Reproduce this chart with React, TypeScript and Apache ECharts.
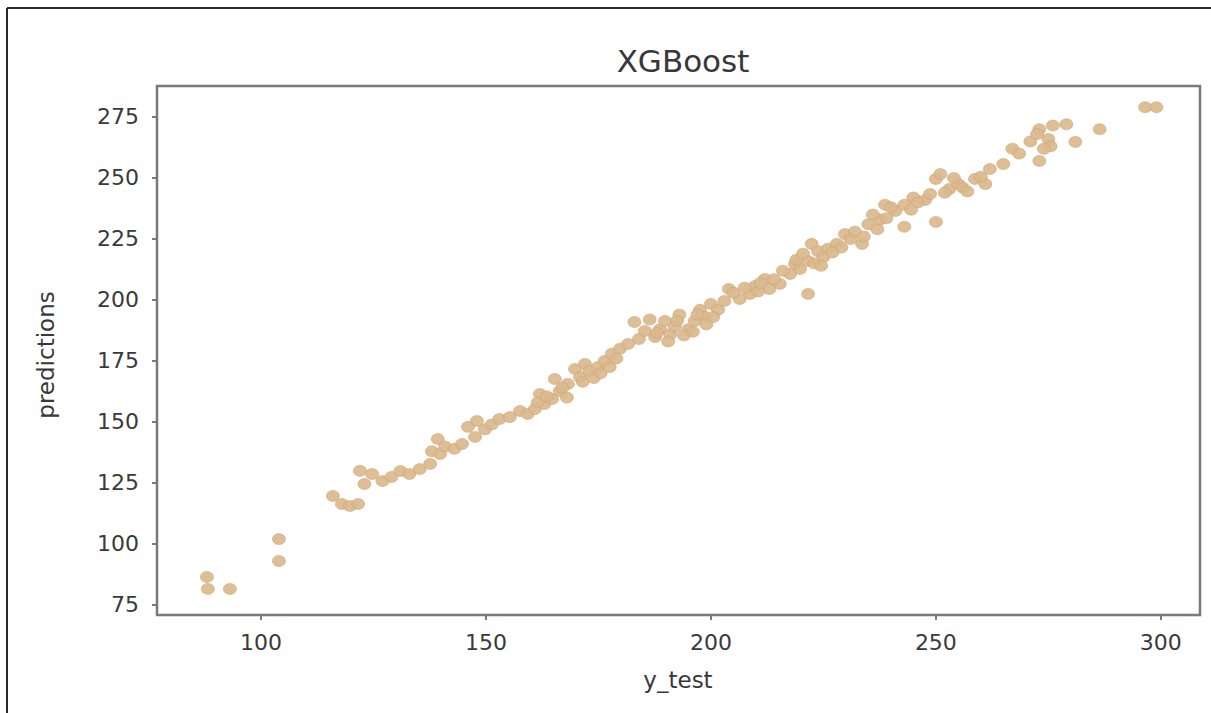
import React, { useEffect, useRef } from "react";
import * as echarts from "echarts";

const titleText = "XGBoost";
const xName = "y_test";
const yName = "predictions";

const yTest: number[] = [
  88.0, 88.2, 93.1, 104.0, 104.0, 116.0, 118.0, 119.8, 121.6, 122.0,
  123.0, 124.7, 127.0, 129.0, 131.0, 133.0, 135.3, 137.6, 138.0, 139.3,
  139.8, 140.9, 143.0, 144.7, 146.0, 147.6, 148.0, 149.8, 151.3, 153.0,
  155.3, 157.6, 159.3, 160.9, 162.0, 163.0, 164.7, 165.3, 166.4, 168.2,
  169.8, 170.9, 172.0, 173.0, 174.9, 176.4, 178.0, 179.8, 181.6, 183.0,
  184.0, 185.3, 186.4, 187.6, 188.7, 189.8, 191.0, 192.0, 193.0, 195.0,
  196.4, 197.6, 198.7, 200.0, 201.6, 203.0, 204.0, 206.4, 208.7, 209.8,
  212.0, 213.0, 215.3, 217.6, 218.7, 219.8, 221.6, 221.6, 222.4, 223.8,
  225.0, 226.0, 228.0, 229.8, 231.0, 233.6, 235.0, 237.0, 237.6, 238.7,
  241.0, 243.0, 243.0, 245.0, 247.6, 248.7, 250.0, 250.0, 251.0, 253.0,
  255.0, 258.7, 261.0, 262.0, 265.0, 267.0, 268.5, 273.0, 275.0, 275.5,
  273.0, 279.0, 281.0, 286.4, 296.5, 299.0,
  271.0, 272.5, 276.0, 274.0,
  190.5, 194.0, 196.0, 199.0, 192.5, 188.0, 197.0, 200.5,
  161.5, 163.5, 167.0, 168.0,
  171.5, 174.0, 175.5, 177.5, 179.0,
  205.0, 207.5, 210.5, 214.0, 216.0, 211.0,
  219.0, 220.5, 223.0, 224.5, 227.0, 229.0,
  232.0, 234.0, 236.0, 239.0, 240.0,
  244.5, 246.0, 252.0, 254.0, 256.0, 257.0, 260.0,
];

const predictions: number[] = [
  86.5, 81.6, 81.6, 102.0, 93.0, 119.7, 116.4, 115.6, 116.4, 130.0,
  124.6, 128.7, 125.8, 127.5, 129.9, 128.7, 130.7, 132.8, 138.0, 143.0,
  136.9, 140.0, 139.0, 141.0, 148.0, 143.9, 150.4, 147.0, 149.0, 151.2,
  152.0, 154.5, 153.3, 155.3, 161.5, 157.4, 159.4, 167.6, 162.7, 165.6,
  171.7, 168.4, 173.8, 170.9, 172.5, 175.0, 178.0, 180.0, 182.0, 191.0,
  184.0, 187.3, 192.0, 184.8, 188.0, 191.4, 186.0, 189.0, 194.0, 188.0,
  191.4, 196.0, 193.0, 198.4, 196.0, 199.6, 204.5, 200.4, 202.5, 205.7,
  208.6, 204.5, 206.6, 210.7, 214.8, 212.7, 216.0, 202.5, 223.0, 220.0,
  217.6, 221.0, 223.0, 227.0, 225.0, 223.0, 231.0, 229.0, 233.0, 239.0,
  236.5, 239.0, 230.0, 242.0, 241.0, 243.4, 249.6, 232.0, 251.6, 245.5,
  247.5, 249.6, 247.5, 253.7, 255.7, 262.0, 260.0, 270.0, 266.0, 263.0,
  257.0, 272.0, 264.8, 270.0, 279.0, 279.0,
  265.0, 268.0, 271.5, 262.0,
  183.0, 185.5, 187.0, 190.0, 191.5, 186.5, 194.0, 193.0,
  158.0, 160.5, 164.0, 160.0,
  166.5, 168.0, 170.0, 172.5, 176.0,
  203.0, 205.0, 203.5, 208.5, 212.0, 207.0,
  216.5, 219.0, 215.0, 214.0, 219.5, 221.5,
  228.0, 226.0, 235.0, 233.5, 238.0,
  237.0, 240.0, 244.0, 250.0, 246.0, 244.5, 250.5,
];

const xTickStep = 50;
const yTickStep = 25;

export default function App() {
  const ref = useRef<HTMLDivElement>(null);

  useEffect(() => {
    if (!ref.current) return;
    const chart = echarts.init(ref.current, undefined, { renderer: "svg" });
    const points = yTest.map((x, i) => [x, predictions[i]]);
    const font = "DejaVu Sans";
    const axisGray = "#7a7a7a";
    chart.setOption({
      animation: false,
      backgroundColor: "#ffffff",
      title: {
        text: titleText,
        left: 678,
        top: 40,
        textAlign: "center",
        textStyle: { fontFamily: font, fontSize: 31, fontWeight: "normal", color: "#383838" },
      },
      grid: {
        left: 157,
        top: 86,
        width: 1043,
        height: 529,
        show: true,
        borderColor: axisGray,
        borderWidth: 2.5,
        backgroundColor: "transparent",
      },
      xAxis: {
        type: "value",
        min: 76.9,
        max: 308.7,
        minInterval: xTickStep,
        maxInterval: xTickStep,
        splitLine: { show: false },
        axisLine: { show: false },
        axisTick: { show: true, length: 5, lineStyle: { color: axisGray, width: 2 } },
        axisLabel: {
          fontFamily: font,
          fontSize: 22,
          color: "#3a3a3a",
          margin: 16,
          showMinLabel: false,
          showMaxLabel: false,
          formatter: (v: number) => (Math.abs(v % xTickStep) < 1e-6 ? String(v) : ""),
        },
      },
      yAxis: {
        type: "value",
        min: 70.9,
        max: 287.7,
        minInterval: yTickStep,
        maxInterval: yTickStep,
        splitLine: { show: false },
        axisLine: { show: false },
        axisTick: { show: true, length: 5, lineStyle: { color: axisGray, width: 2 } },
        axisLabel: {
          fontFamily: font,
          fontSize: 22,
          color: "#3a3a3a",
          margin: 18,
          showMinLabel: false,
          showMaxLabel: false,
          formatter: (v: number) => (Math.abs(v % yTickStep) < 1e-6 ? String(v) : ""),
        },
      },
      graphic: [
        {
          type: "line",
          shape: { x1: 7, y1: 8, x2: 1211, y2: 8 },
          style: { stroke: "#2a2a2a", lineWidth: 2 },
        },
        {
          type: "line",
          shape: { x1: 7, y1: 8, x2: 7, y2: 713 },
          style: { stroke: "#2a2a2a", lineWidth: 2 },
        },
        {
          type: "text",
          x: 678,
          y: 680,
          style: {
            text: xName,
            align: "center",
            verticalAlign: "middle",
            fontFamily: font,
            fontSize: 23,
            fill: "#383838",
          },
        },
        {
          type: "text",
          x: 46,
          y: 355,
          rotation: Math.PI / 2,
          style: {
            text: yName,
            align: "center",
            verticalAlign: "middle",
            fontFamily: font,
            fontSize: 23,
            fill: "#383838",
          },
        },
      ],
      series: [
        {
          type: "scatter",
          data: points,
          symbol: "circle",
          symbolSize: [13, 11],
          itemStyle: { color: "#dab88c", borderColor: "#c9a577", borderWidth: 0.6, opacity: 0.92 },
        },
      ],
    });
    return () => chart.dispose();
  }, []);

  return (
    <div
      ref={ref}
      style={{ position: "fixed", left: 0, top: 0, width: 1211, height: 713, background: "#fff" }}
    />
  );
}
